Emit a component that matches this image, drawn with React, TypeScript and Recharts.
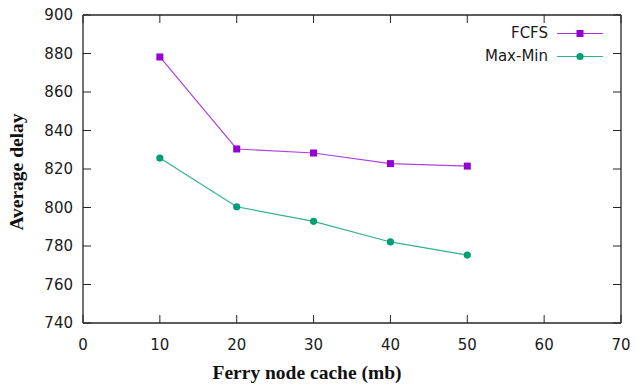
import React from 'react';
import { LineChart, Line, XAxis, YAxis } from 'recharts';

// cache size (mb) on the x axis
const cacheSizes = [10, 20, 30, 40, 50];
// average delay per scheduling policy
const fcfsDelay = [878.2, 830.4, 828.3, 822.8, 821.5];
const maxMinDelay = [825.7, 800.4, 792.8, 782.1, 775.3];

const xTicks = [0, 10, 20, 30, 40, 50, 60, 70];
const yTicks = [740, 760, 780, 800, 820, 840, 860, 880, 900];
const xDomain = [0, 70];
const yDomain = [740, 900];

const FCFS_COLOR = '#9400d3';
const MAXMIN_COLOR = '#009e73';
const AXIS_COLOR = '#262626';
const TICK_FONT = '"DejaVu Sans", Verdana, sans-serif';
const TITLE_FONT = '"Liberation Serif", "Times New Roman", serif';
const TICK_LEN = 8;

const data = cacheSizes.map((c, i) => ({
  cache: c,
  fcfs: fcfsDelay[i],
  maxmin: maxMinDelay[i],
}));

// gnuplot-like ticks: pointing into the plot area
const LeftTick = ({ x, y, payload }: any) => (
  <g>
    <line x1={x + 10} x2={x + 10 + TICK_LEN} y1={y} y2={y} stroke={AXIS_COLOR} strokeWidth={1} />
    <text x={x} y={y} dy="0.36em" textAnchor="end" fontSize={15} fontFamily={TICK_FONT} fill="#1a1a1a">
      {payload.value}
    </text>
  </g>
);

const RightTick = ({ x, y }: any) => (
  <line x1={x} x2={x - TICK_LEN} y1={y} y2={y} stroke={AXIS_COLOR} strokeWidth={1} />
);

const BottomTick = ({ x, y, payload }: any) => (
  <g>
    <line x1={x} x2={x} y1={y - 16} y2={y - 16 - TICK_LEN} stroke={AXIS_COLOR} strokeWidth={1} />
    <text x={x} y={y} dy="0.71em" textAnchor="middle" fontSize={15} fontFamily={TICK_FONT} fill="#1a1a1a">
      {payload.value}
    </text>
  </g>
);

const TopTick = ({ x, y }: any) => (
  <line x1={x} x2={x} y1={y} y2={y + TICK_LEN} stroke={AXIS_COLOR} strokeWidth={1} />
);

const SquareDot = ({ cx, cy }: any) => (
  <rect x={cx - 3.5} y={cy - 3.5} width={7} height={7} fill={FCFS_COLOR} />
);

const CircleDot = ({ cx, cy }: any) => (
  <circle cx={cx} cy={cy} r={3.6} fill={MAXMIN_COLOR} />
);

const XTitle = ({ viewBox }: any) => (
  <text
    x={viewBox.x + viewBox.width / 2 - 45}
    y={379}
    textAnchor="middle"
    fontSize={19.5}
    fontWeight="bold"
    fontFamily={TITLE_FONT}
    fill="#111"
  >
    Ferry node cache (mb)
  </text>
);

const YTitle = ({ viewBox }: any) => {
  const cy = viewBox.y + viewBox.height / 2 + 3;
  return (
    <text
      x={23}
      y={cy}
      transform={`rotate(-90, 23, ${cy})`}
      textAnchor="middle"
      fontSize={19.5}
      fontWeight="bold"
      fontFamily={TITLE_FONT}
      fill="#111"
    >
      Average delay
    </text>
  );
};

const legendItems = [
  { name: 'FCFS', color: FCFS_COLOR, square: true },
  { name: 'Max-Min', color: MAXMIN_COLOR, square: false },
];

export default function App() {
  return (
    <div style={{ position: 'absolute', left: 0, top: 0, width: 636, height: 389, background: '#fff' }}>
      <LineChart width={636} height={389} data={data} margin={{ top: 14, right: 14, left: 0, bottom: 0 }}>
        <XAxis
          dataKey="cache"
          type="number"
          domain={xDomain}
          ticks={xTicks}
          height={66}
          tickSize={0}
          tickMargin={16}
          tickLine={false}
          tick={<BottomTick />}
          axisLine={{ stroke: AXIS_COLOR, strokeWidth: 1.3 }}
          label={<XTitle />}
          interval={0}
        />
        {/* mirrored frame: top and right axes share the same domains */}
        <XAxis
          xAxisId="top"
          orientation="top"
          dataKey="cache"
          type="number"
          domain={xDomain}
          ticks={xTicks}
          height={1}
          tickSize={0}
          tickMargin={0}
          tickLine={false}
          tick={<TopTick />}
          axisLine={{ stroke: AXIS_COLOR, strokeWidth: 1.3 }}
          interval={0}
        />
        <YAxis
          type="number"
          domain={yDomain}
          ticks={yTicks}
          width={83}
          tickSize={0}
          tickMargin={10}
          tickLine={false}
          tick={<LeftTick />}
          axisLine={{ stroke: AXIS_COLOR, strokeWidth: 1.3 }}
          label={<YTitle />}
          interval={0}
        />
        <YAxis
          yAxisId="right"
          orientation="right"
          type="number"
          domain={yDomain}
          ticks={yTicks}
          width={1}
          tickSize={0}
          tickMargin={0}
          tickLine={false}
          tick={<RightTick />}
          axisLine={{ stroke: AXIS_COLOR, strokeWidth: 1.3 }}
          interval={0}
        />
        <Line
          dataKey="fcfs"
          stroke={FCFS_COLOR}
          strokeOpacity={0.75}
          strokeWidth={1.2}
          dot={<SquareDot />}
          activeDot={false}
          isAnimationActive={false}
        />
        <Line
          xAxisId="top"
          yAxisId="right"
          dataKey="maxmin"
          stroke={MAXMIN_COLOR}
          strokeOpacity={0.8}
          strokeWidth={1.2}
          dot={<CircleDot />}
          activeDot={false}
          isAnimationActive={false}
        />
      </LineChart>
      {/* key box, top right inside the frame */}
      <div style={{ position: 'absolute', top: 21.5, right: 33 }}>
        {legendItems.map((item) => (
          <div
            key={item.name}
            style={{
              display: 'flex',
              justifyContent: 'flex-end',
              alignItems: 'center',
              height: 23,
              fontFamily: TICK_FONT,
              fontSize: 15,
              color: '#1a1a1a',
            }}
          >
            <span>{item.name}</span>
            <svg width={46} height={23} style={{ marginLeft: 9 }}>
              <line x1={0} x2={46} y1={11.5} y2={11.5} stroke={item.color} strokeOpacity={0.8} strokeWidth={1.2} />
              {item.square ? (
                <rect x={19.5} y={8} width={7} height={7} fill={item.color} />
              ) : (
                <circle cx={23} cy={11.5} r={3.6} fill={item.color} />
              )}
            </svg>
          </div>
        ))}
      </div>
    </div>
  );
}
